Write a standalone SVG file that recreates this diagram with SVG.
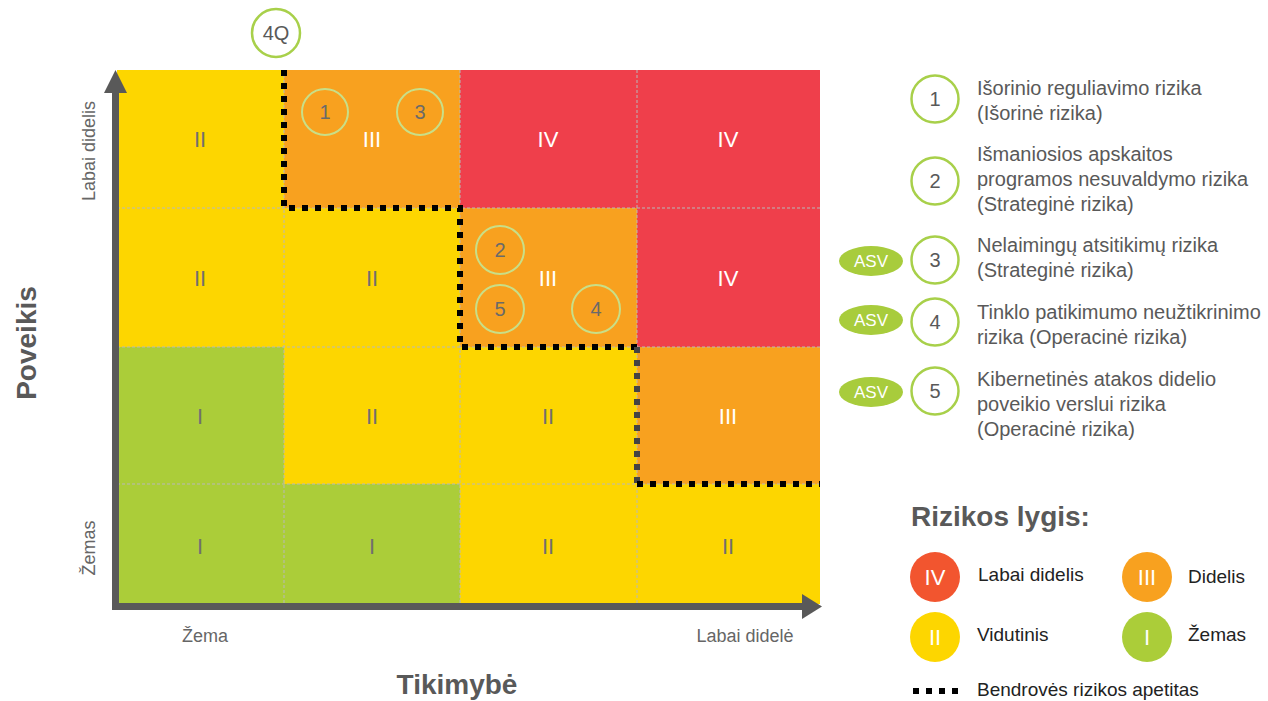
<svg xmlns="http://www.w3.org/2000/svg" width="1268" height="701" viewBox="0 0 1268 701">
<style>
text{font-family:"Liberation Sans",Arial,sans-serif;}
.y{fill:#FDD600;}
.o{fill:#F8A11F;}
.r{fill:#EF3F4B;}
.g{fill:#ABCD39;}
.grid{stroke:#B8B8B8;stroke-width:1;stroke-dasharray:3 2;fill:none;}
.lg{font-size:22px;fill:#707070;text-anchor:middle;}
.lw{font-size:22px;fill:#FFFFFF;text-anchor:middle;}
.mk{fill:none;stroke:#C8DF88;stroke-width:2;}
.mt{font-size:20px;fill:#6A6A6A;text-anchor:middle;}
.ax{font-size:18px;fill:#666666;}
.ttl{font-size:28px;font-weight:bold;fill:#595959;}
.lc{fill:#FFFFFF;stroke:#A8D04A;stroke-width:2.5;}
.ln{font-size:20px;fill:#595959;text-anchor:middle;}
.lt{font-size:20px;fill:#595959;}
.asv{fill:#A8CC3C;}
.asvt{font-size:17px;fill:#FFFFFF;text-anchor:middle;}
.kt{font-size:19px;fill:#222222;}
.kn{font-size:22px;fill:#FFFFFF;text-anchor:middle;}
.appetite{fill:none;stroke:#000;stroke-width:6;stroke-dasharray:6 7;}
</style>

<g id="matrix">
  <g id="cell-r1c1"><rect class="y" x="117" y="70" width="167" height="138"/><text class="lg" x="200" y="147">II</text></g>
  <g id="cell-r1c2"><rect class="o" x="284" y="70" width="176" height="138"/><text class="lw" x="372" y="147">III</text></g>
  <g id="cell-r1c3"><rect class="r" x="460" y="70" width="177" height="138"/><text class="lw" x="548" y="147">IV</text></g>
  <g id="cell-r1c4"><rect class="r" x="637" y="70" width="183" height="138"/><text class="lw" x="728" y="147">IV</text></g>

  <g id="cell-r2c1"><rect class="y" x="117" y="208" width="167" height="139"/><text class="lg" x="200" y="286">II</text></g>
  <g id="cell-r2c2"><rect class="y" x="284" y="208" width="176" height="139"/><text class="lg" x="372" y="286">II</text></g>
  <g id="cell-r2c3"><rect class="o" x="460" y="208" width="177" height="139"/><text class="lw" x="548" y="286">III</text></g>
  <g id="cell-r2c4"><rect class="r" x="637" y="208" width="183" height="139"/><text class="lw" x="728" y="286">IV</text></g>

  <g id="cell-r3c1"><rect class="g" x="117" y="347" width="167" height="137"/><text class="lg" x="200" y="424">I</text></g>
  <g id="cell-r3c2"><rect class="y" x="284" y="347" width="176" height="137"/><text class="lg" x="372" y="424">II</text></g>
  <g id="cell-r3c3"><rect class="y" x="460" y="347" width="177" height="137"/><text class="lg" x="548" y="424">II</text></g>
  <g id="cell-r3c4"><rect class="o" x="637" y="347" width="183" height="137"/><text class="lw" x="728" y="424">III</text></g>

  <g id="cell-r4c1"><rect class="g" x="117" y="484" width="167" height="120"/><text class="lg" x="200" y="554">I</text></g>
  <g id="cell-r4c2"><rect class="g" x="284" y="484" width="176" height="120"/><text class="lg" x="372" y="554">I</text></g>
  <g id="cell-r4c3"><rect class="y" x="460" y="484" width="177" height="120"/><text class="lg" x="548" y="554">II</text></g>
  <g id="cell-r4c4"><rect class="y" x="637" y="484" width="183" height="120"/><text class="lg" x="728" y="554">II</text></g>

  <path class="grid" d="M284 70V604M460 70V604M637 70V604M117 208H820M117 347H820M117 484H820"/>
</g>

<g id="risk-1"><circle class="mk" cx="325" cy="112" r="23"/><text class="mt" x="325" y="119">1</text></g>
<g id="risk-3"><circle class="mk" cx="420" cy="112" r="23"/><text class="mt" x="420" y="119">3</text></g>
<g id="risk-2"><circle class="mk" cx="500" cy="250" r="24"/><text class="mt" x="500" y="257">2</text></g>
<g id="risk-5"><circle class="mk" cx="500" cy="309" r="24"/><text class="mt" x="500" y="316">5</text></g>
<g id="risk-4"><circle class="mk" cx="596" cy="309" r="24"/><text class="mt" x="596" y="316">4</text></g>

<g id="connectors">
  <path class="appetite" d="M284 70V208H460V347H637"/>
  <path class="appetite" style="stroke:#444" d="M637 347V484"/>
  <path class="appetite" d="M637 484H820"/>
</g>

<g id="axes">
  <rect x="112" y="92" width="7" height="518" fill="#595959"/>
  <polygon points="104,93 115.5,70 127,93" fill="#595959"/>
  <rect x="112" y="603" width="692" height="7" fill="#595959"/>
  <polygon points="802,594 822,606.5 802,619" fill="#595959"/>
  <text class="ax" transform="translate(95,151) rotate(-90)" text-anchor="middle">Labai didelis</text>
  <text class="ax" transform="translate(95,548) rotate(-90)" text-anchor="middle">Žemas</text>
  <text class="ttl" transform="translate(36,343) rotate(-90)" text-anchor="middle">Poveikis</text>
  <text class="ax" x="205" y="642" text-anchor="middle">Žema</text>
  <text class="ax" x="745" y="642" text-anchor="middle">Labai didelė</text>
  <text class="ttl" x="457" y="694" text-anchor="middle">Tikimybė</text>
</g>

<g id="q4"><circle cx="276" cy="33" r="24" fill="#FFFFFF" stroke="#A8D04A" stroke-width="2.5"/><text x="276" y="40" font-size="20" fill="#595959" text-anchor="middle">4Q</text></g>

<g id="legend-1">
  <circle class="lc" cx="935" cy="99" r="23.5"/><text class="ln" x="935" y="106">1</text>
  <text class="lt" x="977" y="95">Išorinio reguliavimo rizika</text>
  <text class="lt" x="977" y="120">(Išorinė rizika)</text>
</g>
<g id="legend-2">
  <circle class="lc" cx="935" cy="181" r="23.5"/><text class="ln" x="935" y="188">2</text>
  <text class="lt" x="977" y="161">Išmaniosios apskaitos</text>
  <text class="lt" x="977" y="186">programos nesuvaldymo rizika</text>
  <text class="lt" x="977" y="211">(Strateginė rizika)</text>
</g>
<g id="legend-3">
  <ellipse class="asv" cx="871" cy="261" rx="32" ry="15"/><text class="asvt" x="871" y="267">ASV</text>
  <circle class="lc" cx="935" cy="260" r="23.5"/><text class="ln" x="935" y="267">3</text>
  <text class="lt" x="977" y="252">Nelaimingų atsitikimų rizika</text>
  <text class="lt" x="977" y="277">(Strateginė rizika)</text>
</g>
<g id="legend-4">
  <ellipse class="asv" cx="871" cy="320" rx="32" ry="15"/><text class="asvt" x="871" y="326">ASV</text>
  <circle class="lc" cx="935" cy="322" r="23.5"/><text class="ln" x="935" y="329">4</text>
  <text class="lt" x="977" y="319">Tinklo patikimumo neužtikrinimo</text>
  <text class="lt" x="977" y="344">rizika (Operacinė rizika)</text>
</g>
<g id="legend-5">
  <ellipse class="asv" cx="871" cy="392" rx="32" ry="15"/><text class="asvt" x="871" y="398">ASV</text>
  <circle class="lc" cx="935" cy="391" r="23.5"/><text class="ln" x="935" y="398">5</text>
  <text class="lt" x="977" y="386">Kibernetinės atakos didelio</text>
  <text class="lt" x="977" y="411">poveikio verslui rizika</text>
  <text class="lt" x="977" y="436">(Operacinė rizika)</text>
</g>

<g id="level-legend">
  <text class="ttl" x="911" y="526">Rizikos lygis:</text>
  <g id="level-iv"><circle cx="935" cy="577" r="25" fill="#F2552F"/><text class="kn" x="935" y="585">IV</text><text class="kt" x="978" y="581">Labai didelis</text></g>
  <g id="level-iii"><circle cx="1147" cy="577" r="25" fill="#F8A11F"/><text class="kn" x="1147" y="585">III</text><text class="kt" x="1188" y="583">Didelis</text></g>
  <g id="level-ii"><circle cx="935" cy="637" r="25" fill="#FDD600"/><text class="kn" x="935" y="645">II</text><text class="kt" x="977" y="641">Vidutinis</text></g>
  <g id="level-i"><circle cx="1147" cy="637" r="25" fill="#ABCD39"/><text class="kn" x="1147" y="645">I</text><text class="kt" x="1188" y="641">Žemas</text></g>
  <g id="level-appetite"><path d="M913 691H961" fill="none" stroke="#000" stroke-width="6" stroke-dasharray="6 7"/><text class="kt" x="977" y="696">Bendrovės rizikos apetitas</text></g>
</g>
</svg>
